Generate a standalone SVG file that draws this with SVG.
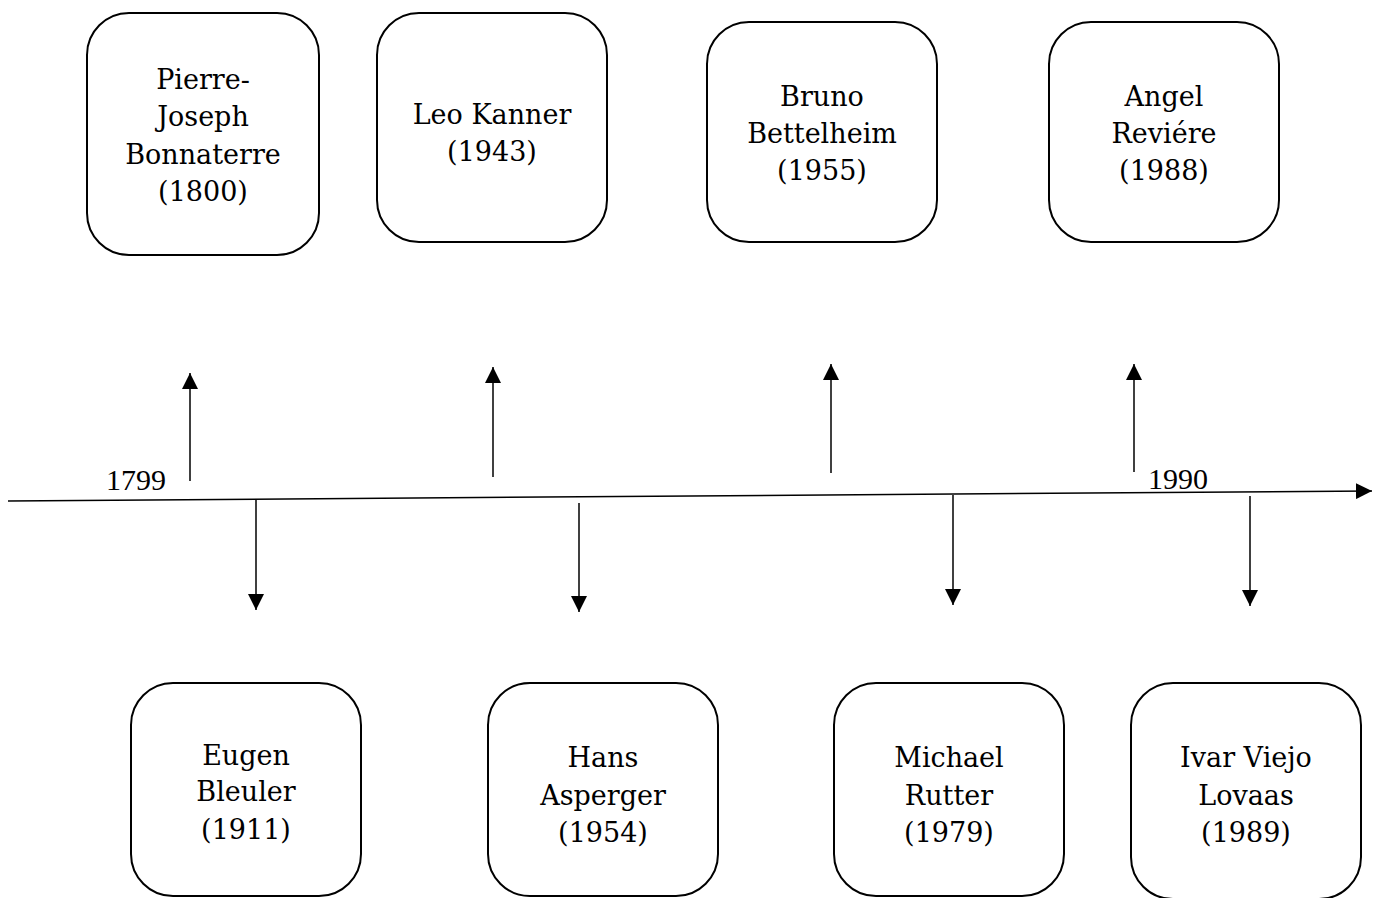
<svg xmlns="http://www.w3.org/2000/svg" width="1383" height="898" viewBox="0 0 1383 898">
<style>
.box{fill:#fff;stroke:#000;stroke-width:2}
.t{font-family:"DejaVu Serif",serif;font-size:27px;fill:#000;text-anchor:middle}
.y{font-family:"Liberation Serif",serif;font-size:30px;fill:#000}
.c{stroke:#000;stroke-width:1.5;fill:none}
</style>
<defs>
<marker id="ah2" viewBox="0 0 10 10" refX="10" refY="5" markerWidth="16" markerHeight="16" markerUnits="userSpaceOnUse" orient="auto">
<path d="M0,0 L10,5 L0,10 z" fill="#000"/>
</marker>
</defs>
<rect width="1383" height="898" fill="#fff"/>
<g id="connectors">
<line class="c" x1="8" y1="501" x2="1372" y2="491" marker-end="url(#ah2)"/>
<line class="c" x1="190" y1="481" x2="190" y2="373" marker-end="url(#ah2)"/>
<line class="c" x1="493" y1="477" x2="493" y2="367" marker-end="url(#ah2)"/>
<line class="c" x1="831" y1="473" x2="831" y2="364" marker-end="url(#ah2)"/>
<line class="c" x1="1134" y1="472" x2="1134" y2="364" marker-end="url(#ah2)"/>
<line class="c" x1="256" y1="500" x2="256" y2="610" marker-end="url(#ah2)"/>
<line class="c" x1="579" y1="503" x2="579" y2="612" marker-end="url(#ah2)"/>
<line class="c" x1="953" y1="495" x2="953" y2="605" marker-end="url(#ah2)"/>
<line class="c" x1="1250" y1="496" x2="1250" y2="606" marker-end="url(#ah2)"/>
<text class="y" x="106" y="490">1799</text>
<text class="y" x="1148" y="489">1990</text>
</g>
<g id="n1"><rect class="box" x="87" y="13" width="232" height="242" rx="42"/>
<text class="t" x="203" y="89">Pierre-</text><text class="t" x="203" y="126">Joseph</text><text class="t" x="203" y="164">Bonnaterre</text><text class="t" x="203" y="201">(1800)</text></g>
<g id="n2"><rect class="box" x="377" y="13" width="230" height="229" rx="42"/>
<text class="t" x="492" y="124">Leo Kanner</text><text class="t" x="492" y="161">(1943)</text></g>
<g id="n3"><rect class="box" x="707" y="22" width="230" height="220" rx="42"/>
<text class="t" x="822" y="106">Bruno</text><text class="t" x="822" y="143">Bettelheim</text><text class="t" x="822" y="180">(1955)</text></g>
<g id="n4"><rect class="box" x="1049" y="22" width="230" height="220" rx="42"/>
<text class="t" x="1164" y="106">Angel</text><text class="t" x="1164" y="143">Reviére</text><text class="t" x="1164" y="180">(1988)</text></g>
<g id="n5"><rect class="box" x="131" y="683" width="230" height="213" rx="42"/>
<text class="t" x="246" y="765">Eugen</text><text class="t" x="246" y="801">Bleuler</text><text class="t" x="246" y="839">(1911)</text></g>
<g id="n6"><rect class="box" x="488" y="683" width="230" height="213" rx="42"/>
<text class="t" x="603" y="767">Hans</text><text class="t" x="603" y="805">Asperger</text><text class="t" x="603" y="842">(1954)</text></g>
<g id="n7"><rect class="box" x="834" y="683" width="230" height="213" rx="42"/>
<text class="t" x="949" y="767">Michael</text><text class="t" x="949" y="805">Rutter</text><text class="t" x="949" y="842">(1979)</text></g>
<g id="n8"><rect class="box" x="1131" y="683" width="230" height="216" rx="42"/>
<text class="t" x="1246" y="767">Ivar Viejo</text><text class="t" x="1246" y="805">Lovaas</text><text class="t" x="1246" y="842">(1989)</text></g>
</svg>
